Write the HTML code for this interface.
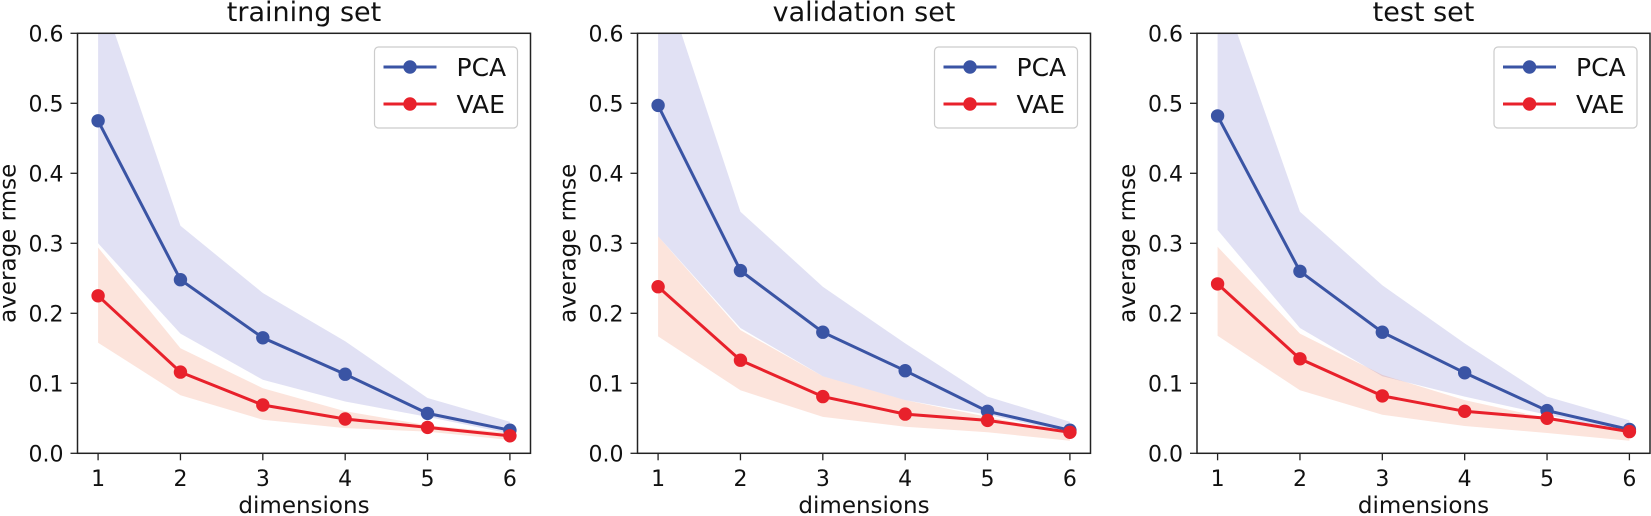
<!DOCTYPE html>
<html><head><meta charset="utf-8">
<style>
html,body{margin:0;padding:0;background:#fff;}
svg{display:block;font-family:"DejaVu Sans","Liberation Sans",sans-serif;}
</style></head>
<body>
<svg id="chart" width="1651" height="516" viewBox="0 0 1651 516" xmlns="http://www.w3.org/2000/svg"></svg>
<script>
const dims = [1,2,3,4,5,6];
const yTicks = [0,0.1,0.2,0.3,0.4,0.5,0.6];
const yTickLabels = ["0.0","0.1","0.2","0.3","0.4","0.5","0.6"];
const panelTitles = ["training set","validation set","test set"];
const seriesNames = ["PCA","VAE"];

const pcaTrain = [0.475,0.248,0.165,0.113,0.057,0.033];
const pcaTrainHi = [0.67,0.325,0.229,0.16,0.079,0.045];
const pcaTrainLo = [0.30,0.171,0.105,0.074,0.052,0.028];
const vaeTrain = [0.225,0.116,0.069,0.049,0.037,0.025];
const vaeTrainHi = [0.294,0.15,0.093,0.06,0.04,0.029];
const vaeTrainLo = [0.158,0.083,0.048,0.036,0.031,0.019];

const pcaVal = [0.497,0.261,0.173,0.118,0.06,0.033];
const pcaValHi = [0.70,0.345,0.238,0.157,0.081,0.045];
const pcaValLo = [0.31,0.179,0.11,0.076,0.055,0.029];
const vaeVal = [0.238,0.133,0.081,0.056,0.047,0.03];
const vaeValHi = [0.31,0.176,0.11,0.076,0.052,0.029];
const vaeValLo = [0.167,0.09,0.052,0.038,0.03,0.018];

const pcaTest = [0.482,0.26,0.173,0.115,0.061,0.034];
const pcaTestHi = [0.68,0.345,0.24,0.157,0.081,0.047];
const pcaTestLo = [0.319,0.179,0.11,0.081,0.055,0.029];
const vaeTest = [0.242,0.135,0.082,0.06,0.05,0.031];
const vaeTestHi = [0.295,0.171,0.112,0.076,0.05,0.029];
const vaeTestLo = [0.168,0.09,0.055,0.039,0.029,0.018];

const NS = "http://www.w3.org/2000/svg";
const svg = document.getElementById('chart');
function mk(tag, attrs, parent){
  const e = document.createElementNS(NS, tag);
  for (const k in attrs) e.setAttribute(k, attrs[k]);
  (parent||svg).appendChild(e);
  return e;
}
const BLUE = "#3a54a4", RED = "#e8212b";
const panels = [
  {left:77.5, pca:pcaTrain, pHi:pcaTrainHi, pLo:pcaTrainLo, vae:vaeTrain, vHi:vaeTrainHi, vLo:vaeTrainLo},
  {left:637.5, pca:pcaVal, pHi:pcaValHi, pLo:pcaValLo, vae:vaeVal, vHi:vaeValHi, vLo:vaeValLo},
  {left:1197, pca:pcaTest, pHi:pcaTestHi, pLo:pcaTestLo, vae:vaeTest, vHi:vaeTestHi, vLo:vaeTestLo}
];
const W = 453, TOP = 33.3, BOT = 453.3;
panels.forEach((p, pi) => {
  const L = p.left;
  const xs = v => L + (v - 0.75) / 5.5 * W;
  const ys = v => BOT - v / 0.6 * (BOT - TOP);
  const g = mk('g', {});
  
  
  const cid = 'clip' + pi;
  const cp = mk('clipPath', {id: cid}, g);
  mk('rect', {x:L, y:TOP, width:W, height:BOT-TOP}, cp);
  const plot = mk('g', {'clip-path':'url(#'+cid+')'}, g);
  function band(hi, lo, fill, name){
    let d = dims.map((x,i)=>(i?'L':'M')+xs(x)+','+ys(hi[i])).join(' ');
    for (let i=dims.length-1;i>=0;i--) d += ' L'+xs(dims[i])+','+ys(lo[i]);
    const e = mk('path', {d:d+' Z', fill:fill, 'fill-opacity':0.17}, plot);
    
    
  }
  band(p.pHi, p.pLo, "#5050c0", 'pca-band');
  band(p.vHi, p.vLo, "#f06030", 'vae-band');
  function line(vals, col, name){
    const pl = mk('polyline', {points: dims.map((x,i)=>xs(x)+','+ys(vals[i])).join(' '), fill:'none', stroke:col, 'stroke-width':3}, plot);
    
    
    dims.forEach((x,i)=>{
      const c = mk('circle', {cx:xs(x), cy:ys(vals[i]), r:6.7, fill:col}, g);
      
      
    });
  }
  line(p.pca, BLUE, 'pca');
  line(p.vae, RED, 'vae');
  const frame = mk('rect', {x:L, y:TOP, width:W, height:BOT-TOP, fill:'none', stroke:'#222', 'stroke-width':1.5}, g);
  
  
  yTicks.forEach((v,i)=>{
    mk('line', {x1:L-7, x2:L, y1:ys(v), y2:ys(v), stroke:'#222', 'stroke-width':1.3}, g);
    const t = mk('text', {x:L-14, y:ys(v)+8, 'text-anchor':'end', 'font-size':22, fill:'#111'}, g);
    t.textContent = yTickLabels[i];
    
    
  });
  dims.forEach(x=>{
    mk('line', {x1:xs(x), x2:xs(x), y1:BOT, y2:BOT+7, stroke:'#222', 'stroke-width':1.3}, g);
    const t = mk('text', {x:xs(x), y:486, 'text-anchor':'middle', 'font-size':22, fill:'#111'}, g);
    t.textContent = String(x);
    
    
  });
  const xt = mk('text', {x:L+W/2, y:513, 'text-anchor':'middle', 'font-size':23, fill:'#111'}, g);
  xt.textContent = 'dimensions';
  
  
  const yt = mk('text', {x:0, y:0, 'text-anchor':'middle', 'font-size':23, fill:'#111', transform:'translate('+(L-62)+','+((TOP+BOT)/2)+') rotate(-90)'}, g);
  yt.textContent = 'average rmse';
  
  
  const tt = mk('text', {x:L+W/2, y:21, 'text-anchor':'middle', 'font-size':27, fill:'#111'}, g);
  tt.textContent = panelTitles[pi];
  
  
  const lg = mk('g', {}, g);
  
  
  const lx = L + 297;
  mk('rect', {x:lx, y:47, width:143, height:81, rx:4, fill:'#fff', 'fill-opacity':0.9, stroke:'#ccc', 'stroke-width':1.2}, lg);
  [[BLUE,67],[RED,104]].forEach((e,k)=>{
    const eg = mk('g', {}, lg);
    
    
    mk('line', {x1:lx+9, x2:lx+62, y1:e[1], y2:e[1], stroke:e[0], 'stroke-width':3}, eg);
    mk('circle', {cx:lx+35.5, cy:e[1], r:6.7, fill:e[0]}, eg);
    const t = mk('text', {x:lx+82, y:e[1]+9, 'font-size':25, fill:'#111'}, eg);
    t.textContent = seriesNames[k];
  });
});
</script>
</body></html>
